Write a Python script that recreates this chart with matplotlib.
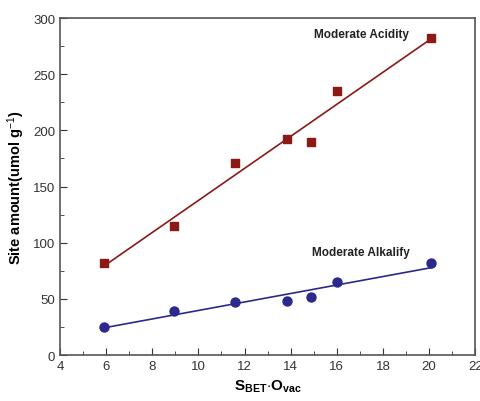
import numpy as np
import matplotlib.pyplot as plt
from matplotlib.ticker import MultipleLocator

x_vals = [5.9, 8.95, 11.6, 13.85, 14.9, 16.0, 20.1]
acidity = [82, 115, 171, 192, 190, 235, 282]
alkalify = [25, 39, 47, 48, 52, 65, 82]

plt.rcParams['font.family'] = ['Liberation Sans', 'DejaVu Sans']
plt.rcParams['mathtext.fontset'] = 'custom'
plt.rcParams['mathtext.rm'] = 'Liberation Sans'
plt.rcParams['mathtext.bf'] = 'Liberation Sans:bold'
plt.rcParams['mathtext.it'] = 'Liberation Sans:italic'

fig = plt.figure(figsize=(4.8, 4.02), dpi=100)
ax = fig.add_axes([0.125, 0.1144, 0.865, 0.8383])

x = np.array(x_vals)
red = '#8b1a17'
blue = '#2b2a8c'

ax.scatter(x, acidity, marker='s', s=36, color=red, zorder=3)
k, b = np.polyfit(x, acidity, 1)
ax.plot(x[[0, -1]], k * x[[0, -1]] + b, color=red, lw=1.2)

ax.scatter(x, alkalify, marker='o', s=42, color=blue, zorder=3)
k, b = np.polyfit(x, alkalify, 1)
ax.plot(x[[0, -1]], k * x[[0, -1]] + b, color=blue, lw=1.2)

ax.text(17.05, 286, 'Moderate Acidity', fontsize=8.5, fontweight='bold',
        ha='center', va='center', color='#222222')
ax.text(17.05, 92, 'Moderate Alkalify', fontsize=8.5, fontweight='bold',
        ha='center', va='center', color='#222222')

ax.set_xlim(4, 22)
ax.set_ylim(0, 300)
ax.xaxis.set_major_locator(MultipleLocator(2))
ax.xaxis.set_minor_locator(MultipleLocator(1))
ax.yaxis.set_major_locator(MultipleLocator(50))
ax.yaxis.set_minor_locator(MultipleLocator(25))
ax.tick_params(which='both', direction='in', labelsize=9.5, colors='#333333')
ax.tick_params(which='major', length=5)
ax.tick_params(which='minor', length=3)
for s in ax.spines.values():
    s.set_color('#555555')
    s.set_linewidth(1.2)

ax.set_xlabel(r'$\mathbf{S}_{\mathbf{BET}}\mathbf{\cdot O}_{\mathbf{vac}}$', fontsize=11)
ax.set_ylabel(r'Site amount(umol g$^{\mathrm{-1}}$)', fontsize=10.5, fontweight='bold')

fig.savefig('out.png')
